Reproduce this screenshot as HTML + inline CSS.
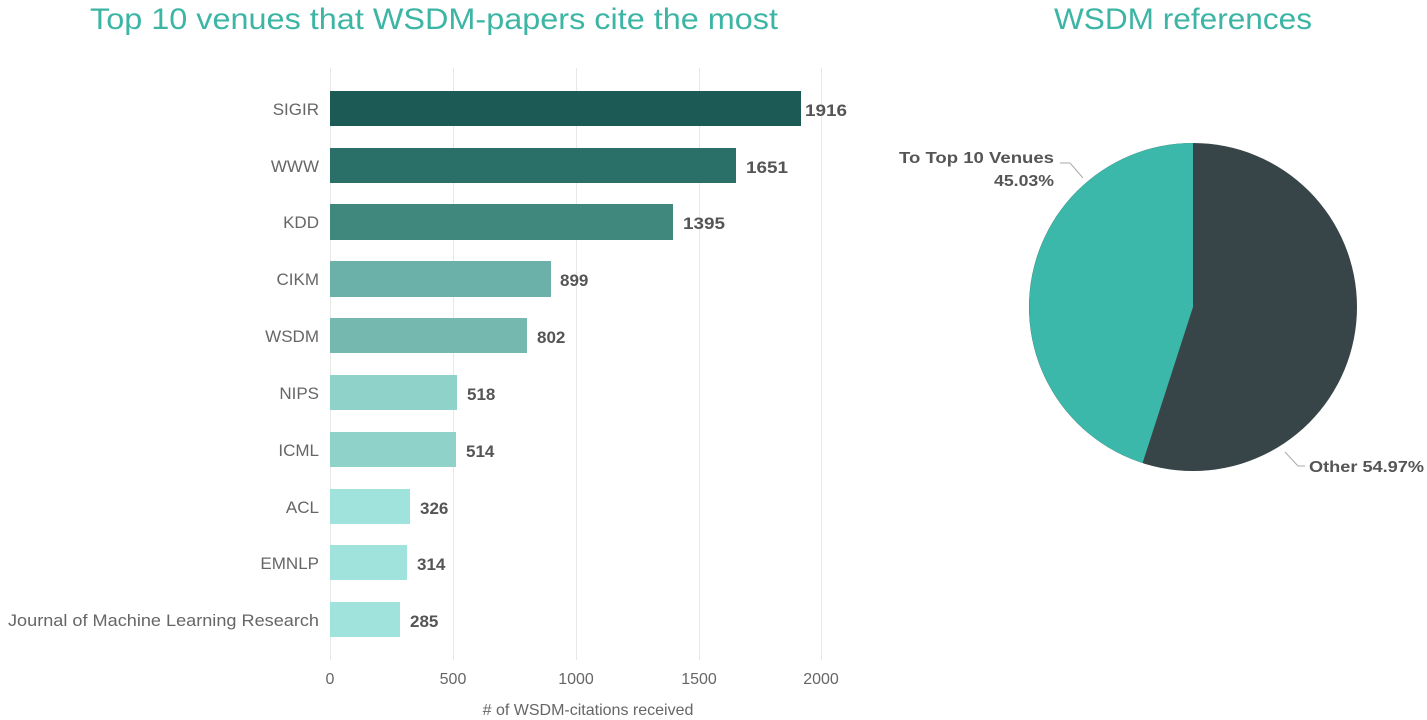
<!DOCTYPE html>
<html><head><meta charset="utf-8"><style>
html,body{margin:0;padding:0;background:#fff;}
svg{display:block;font-family:"Liberation Sans","DejaVu Sans",sans-serif;}
</style></head><body>
<svg width="1427" height="720" viewBox="0 0 1427 720">
<text x="90" y="29" font-size="30" fill="#3db5a4" textLength="688" lengthAdjust="spacingAndGlyphs">Top 10 venues that WSDM-papers cite the most</text>
<text x="1054" y="29" font-size="30" fill="#3db5a4" textLength="258" lengthAdjust="spacingAndGlyphs">WSDM references</text>
<g stroke="#e8e8e8" stroke-width="1">
<line x1="330.5" y1="68" x2="330.5" y2="660"/>
<line x1="453.5" y1="68" x2="453.5" y2="660"/>
<line x1="576.5" y1="68" x2="576.5" y2="660"/>
<line x1="699.5" y1="68" x2="699.5" y2="660"/>
<line x1="821.5" y1="68" x2="821.5" y2="660"/>
</g>
<g font-size="17" fill="#666" text-anchor="end">
<text x="319" y="115">SIGIR</text>
<text x="319" y="172">WWW</text>
<text x="319" y="228">KDD</text>
<text x="319" y="285">CIKM</text>
<text x="319" y="342">WSDM</text>
<text x="319" y="399">NIPS</text>
<text x="319" y="456">ICML</text>
<text x="319" y="513">ACL</text>
<text x="319" y="569">EMNLP</text>
<text x="319" y="626" textLength="311" lengthAdjust="spacingAndGlyphs">Journal of Machine Learning Research</text>
</g>
<rect x="330" y="91" width="471" height="35" fill="#1c5a55"/>
<rect x="330" y="148" width="406" height="35" fill="#2b7068"/>
<rect x="330" y="204" width="343" height="36" fill="#40877e"/>
<rect x="330" y="261" width="221" height="36" fill="#6bb1aa"/>
<rect x="330" y="318" width="197" height="35" fill="#75b8b0"/>
<rect x="330" y="375" width="127" height="35" fill="#8fd2ca"/>
<rect x="330" y="432" width="126" height="35" fill="#8fd2ca"/>
<rect x="330" y="489" width="80" height="35" fill="#a0e2dc"/>
<rect x="330" y="545" width="77" height="35" fill="#a0e2dc"/>
<rect x="330" y="602" width="70" height="35" fill="#a0e2dc"/>
<g font-size="17" fill="#555" font-weight="bold">
<text x="805" y="116" textLength="42" lengthAdjust="spacingAndGlyphs">1916</text>
<text x="746" y="173" textLength="42" lengthAdjust="spacingAndGlyphs">1651</text>
<text x="683" y="229" textLength="42" lengthAdjust="spacingAndGlyphs">1395</text>
<text x="560" y="286">899</text>
<text x="537" y="343">802</text>
<text x="467" y="400">518</text>
<text x="466" y="457">514</text>
<text x="420" y="514">326</text>
<text x="417" y="570">314</text>
<text x="410" y="627">285</text>
</g>
<g font-size="16" fill="#666" text-anchor="middle">
<text x="330" y="684">0</text>
<text x="453" y="684">500</text>
<text x="576" y="684">1000</text>
<text x="699" y="684">1500</text>
<text x="821" y="684">2000</text>
<text x="588" y="715">#  of WSDM-citations received</text>
</g>
<circle cx="1193" cy="307" r="164" fill="#374548"/>
<path d="M1193,307 L1193,143 A164,164 0 0,0 1142.6,463 Z" fill="#3bb8a9"/>
<g stroke="#aaa" fill="none" stroke-width="1">
<polyline points="1060,163 1070,163 1083,178"/>
<polyline points="1285,452 1298,466 1305,466"/>
</g>
<g font-size="16" fill="#555" font-weight="bold">
<text x="1054" y="163" text-anchor="end" textLength="155" lengthAdjust="spacingAndGlyphs">To Top 10 Venues</text>
<text x="1054" y="186" text-anchor="end" textLength="60" lengthAdjust="spacingAndGlyphs">45.03%</text>
<text x="1309" y="472" textLength="115" lengthAdjust="spacingAndGlyphs">Other 54.97%</text>
</g>
</svg>
</body></html>
